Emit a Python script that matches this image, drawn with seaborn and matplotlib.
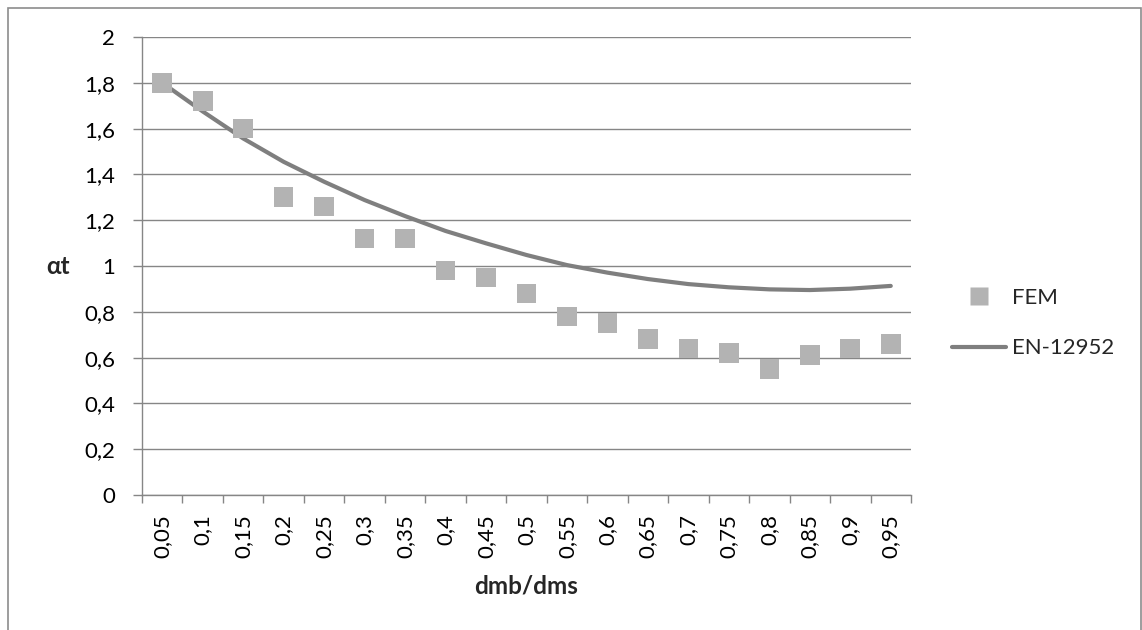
import matplotlib
matplotlib.use("Agg")
import matplotlib.pyplot as plt
from matplotlib.lines import Line2D
from matplotlib.patches import Rectangle
import numpy as np
import pandas as pd
import seaborn as sns

# Ratio dmb/dms (category axis)
ratios = ["0,05", "0,1", "0,15", "0,2", "0,25", "0,3", "0,35", "0,4", "0,45", "0,5",
          "0,55", "0,6", "0,65", "0,7", "0,75", "0,8", "0,85", "0,9", "0,95"]

# FEM results
fem = [1.80, 1.72, 1.60, 1.30, 1.26, 1.12, 1.12, 0.98, 0.95, 0.88,
       0.78, 0.75, 0.68, 0.64, 0.62, 0.55, 0.61, 0.64, 0.66]

# EN-12952 curve
en12952 = [1.80, 1.675, 1.557, 1.455, 1.368, 1.288, 1.218, 1.153, 1.099, 1.048,
           1.004, 0.971, 0.943, 0.921, 0.907, 0.898, 0.895, 0.901, 0.913]

y_ticks = [0, 0.2, 0.4, 0.6, 0.8, 1.0, 1.2, 1.4, 1.6, 1.8, 2.0]
y_ticklabels = ["0", "0,2", "0,4", "0,6", "0,8", "1", "1,2", "1,4", "1,6", "1,8", "2"]

df = pd.DataFrame({"pos": np.arange(len(ratios)), "ratio": ratios,
                   "FEM": fem, "EN-12952": en12952})

sns.set_theme(style="white")
plt.rcParams["font.family"] = ["Lato", "DejaVu Sans"]

W, H = 1142, 630
fig = plt.figure(figsize=(W / 100, H / 100), dpi=100)
ax = fig.add_axes([142 / W, 1 - 495 / H, (911 - 142) / W, (495 - 37) / H])

grid_c = "#868686"
line_c = "#7f7f7f"
mark_c = "#b3b3b3"
fs = 16
fs_lab = 17.5

sns.lineplot(data=df, x="pos", y="EN-12952", ax=ax, color=line_c, linewidth=3.0,
             errorbar=None, legend=False, zorder=3, solid_capstyle="round")
sns.scatterplot(data=df, x="pos", y="FEM", ax=ax, marker="s", s=200, color=mark_c,
                edgecolor="none", linewidth=0, legend=False, zorder=4)

ax.set_xlim(-0.5, len(ratios) - 0.5)
ax.set_ylim(0, 2)

# y axis
ax.set_yticks(y_ticks)
ax.set_yticklabels(y_ticklabels, fontsize=fs, color="#000000")
ax.tick_params(axis="y", which="major", length=6.5, width=1, color=grid_c,
               pad=13, left=True)
ax.grid(axis="y", color=grid_c, linewidth=1)
ax.set_axisbelow(True)

# x axis: tick marks on category boundaries, labels at centres
ax.set_xticks(np.arange(-0.5, len(ratios), 1.0))
ax.set_xticklabels([])
ax.set_xticks(np.arange(len(ratios)), minor=True)
ax.set_xticklabels(ratios, minor=True, rotation=90, fontsize=fs, color="#000000")
ax.tick_params(axis="x", which="major", length=6, width=1, color=grid_c, bottom=True)
ax.tick_params(axis="x", which="minor", length=0, pad=13.5, bottom=True)

for side in ["top", "right"]:
    ax.spines[side].set_visible(False)
for side in ["left", "bottom"]:
    ax.spines[side].set_color(grid_c)
    ax.spines[side].set_linewidth(1)

ax.set_xlabel("dmb/dms", fontsize=fs_lab, fontweight="bold")
ax.xaxis.set_label_coords(0.5, (495 - 586) / 458, transform=ax.transAxes)
ax.xaxis.label.set_va("center")
ax.set_ylabel("αt", fontsize=fs_lab, fontweight="bold", rotation=0, va="center", ha="center")
ax.yaxis.set_label_coords((58 - 142) / 769, 0.5)

handles = [
    Line2D([], [], linestyle="none", marker="s", markersize=13,
           markerfacecolor=mark_c, markeredgecolor="none"),
    Line2D([], [], color=line_c, linewidth=3.0, solid_capstyle="round"),
]
ax.legend(handles=handles, labels=["FEM", "EN-12952"],
          loc="center left", bbox_to_anchor=(952 / W, 1 - 323 / H),
          bbox_transform=fig.transFigure, frameon=False, fontsize=fs,
          handlelength=2.45, handletextpad=0.23, labelspacing=1.38,
          borderpad=0, borderaxespad=0)

# chart area border
fig.patches.append(Rectangle((8 / W, -0.05), (1141 - 8) / W, 1.05 - 8 / H,
                             transform=fig.transFigure, fill=False,
                             edgecolor="#8c8c8c", linewidth=1.2))

fig.savefig("out.png", dpi=100)
